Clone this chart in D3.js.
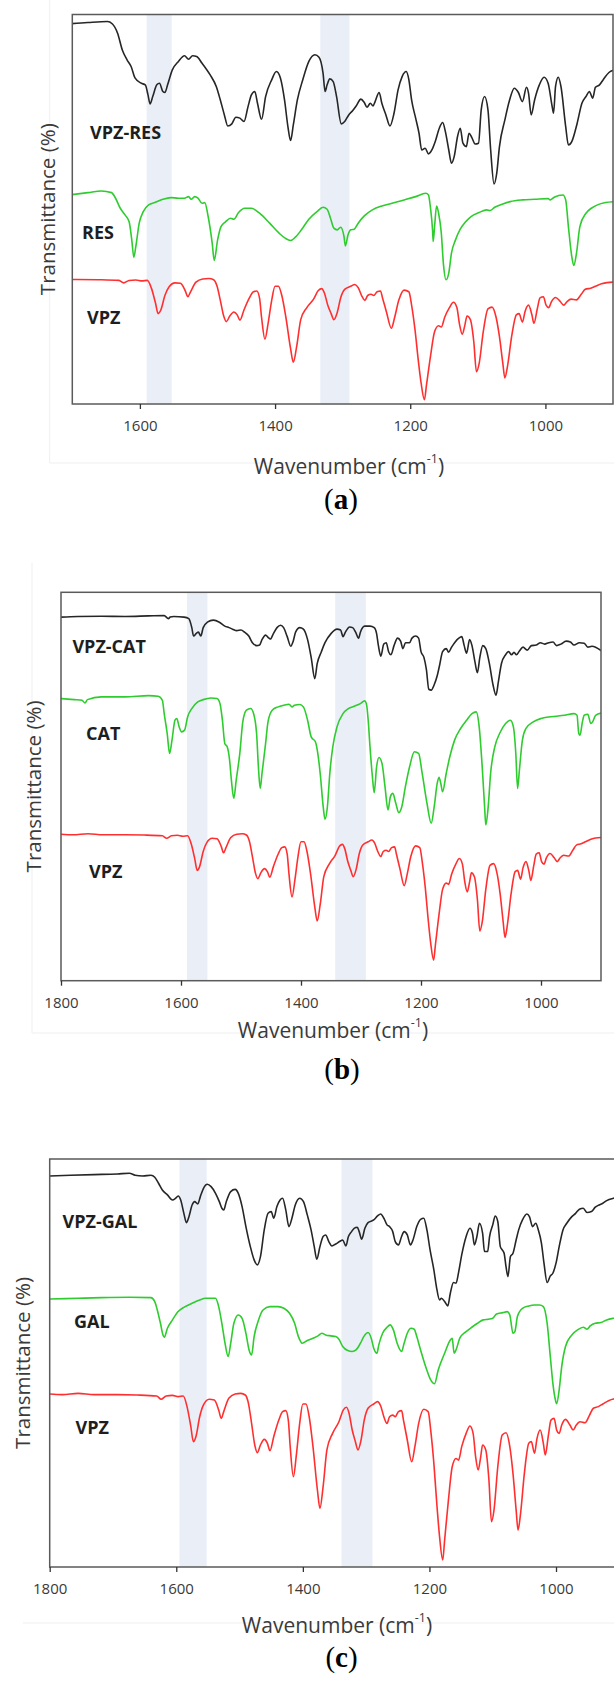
<!DOCTYPE html>
<html>
<head>
<meta charset="utf-8">
<script src="https://cdn.jsdelivr.net/npm/d3@7"></script>
<style>
  body { margin: 0; background: #fff; }
  svg { display: block; }
</style>
</head>
<body>
<svg id="fig" width="614" height="1682"></svg>
<script>
// FTIR spectra, [wavenumber (cm-1), relative transmittance]
// relative transmittance: 100 = highest point of the trace, 0 = its strongest band
const VPZ = [[1800,100],[1780,99.6],[1755,100.4],[1730,99.6],[1693,99.6],[1662,99.4],[1631,98.8],[1624,96.8],[1616,98.8],[1606,99.2],[1597,98.4],[1589,98.8],[1583,92.4],[1577,80.3],[1573,71.3],[1569,74.3],[1563,86.3],[1557,93.4],[1548,96.8],[1540,96.4],[1533,90.4],[1529,85.3],[1525,89.4],[1517,97.4],[1507,100],[1498,100.4],[1491,99.4],[1486,94.4],[1481,82.3],[1476,69.3],[1472,64.7],[1467,69.3],[1461,72.7],[1456,70.3],[1452,65.9],[1446,74.3],[1438,84.3],[1432,89.4],[1427,90],[1423,84.3],[1420,68.3],[1415,50.2],[1410,64.3],[1405,82.3],[1400,94],[1395,94],[1390,86.3],[1384,68.3],[1377,42.2],[1373,31.1],[1368,44.2],[1362,66.3],[1353,76.3],[1343,83.3],[1336,90.4],[1331,92],[1327,88.4],[1322,78.3],[1317,71.3],[1313,66.3],[1308,72.3],[1303,84.3],[1297,91.4],[1288,94],[1282,95.4],[1277,92.8],[1272,86.3],[1267,82.3],[1263,86.3],[1258,87.3],[1254,86.3],[1249,89.4],[1244,90],[1241,84.3],[1235,72.3],[1228,59.2],[1223,68.3],[1217,82.3],[1209,90.8],[1202,89.4],[1198,78.3],[1193,58.2],[1188,32.1],[1184,14.1],[1179,0],[1176,12],[1170,36.1],[1164,56.2],[1158,61.2],[1154,60.2],[1149,68.3],[1142,76.3],[1136,80.7],[1131,76.3],[1127,62.2],[1123,54.2],[1119,62.2],[1116,69.3],[1111,66.3],[1106,48.2],[1102,23.1],[1098,30.1],[1092,56.2],[1085,75.3],[1079,76.7],[1073,68.3],[1068,52.2],[1063,30.1],[1060,18.1],[1056,28.1],[1050,52.2],[1043,70.3],[1039,71.3],[1034,64.3],[1030,73.3],[1025,78.3],[1020,70.3],[1017,63.3],[1012,75.3],[1008,84.3],[1003,85.3],[999,78.3],[995,76.3],[991,81.3],[985,84.7],[978,81.3],[973,78.3],[968,81.3],[962,83.3],[954,82.7],[947,87.3],[941,91.4],[933,92.4],[926,94],[917,96],[909,97],[895,97.5]];

const VPZ_RES = [[1704,98.6],[1677,99.4],[1648,100],[1641,98.6],[1633,92.8],[1626,82.5],[1619,76.4],[1613,72.3],[1607,65.1],[1598,62],[1592,61],[1588,54.8],[1585,49.3],[1581,53.8],[1575,61],[1571,62],[1566,56.9],[1563,56.3],[1559,61],[1552,70.2],[1543,75.4],[1534,78.9],[1528,76.8],[1522,78.9],[1516,78.4],[1508,74.3],[1496,67.1],[1487,60],[1481,51.7],[1475,42.5],[1470,35.7],[1464,37],[1458,41.1],[1452,40.5],[1446,38.4],[1440,47.6],[1435,54.8],[1430,56.9],[1426,49.7],[1420,39.8],[1414,53.8],[1405,64.1],[1398,69.2],[1392,65.1],[1386,51.7],[1381,35.3],[1377,26.7],[1373,36.3],[1367,51.7],[1359,64.1],[1350,75.4],[1341,79.5],[1335,78],[1329,68.2],[1326,56.9],[1323,61],[1319,64.7],[1314,63],[1309,53.8],[1302,37],[1297,38.4],[1291,42.5],[1285,45.2],[1280,48],[1273,52.2],[1268,50.1],[1264,47.2],[1259,49.7],[1255,48],[1252,50.7],[1246,56.3],[1242,49.7],[1236,42.5],[1230,35.7],[1224,43.5],[1218,57.9],[1212,66.1],[1206,69.2],[1202,64.1],[1198,51.7],[1192,40.5],[1187,31.2],[1183,20.9],[1178,22],[1173,18.5],[1168,20.9],[1163,26.1],[1157,34.3],[1152,37.8],[1148,32.2],[1143,20.9],[1139,12.7],[1135,16.8],[1130,29.2],[1126,34.3],[1122,25.1],[1117,23],[1113,31.2],[1109,28.7],[1104,24.6],[1099,25.1],[1095,45.6],[1090,53.8],[1085,45.6],[1081,20.9],[1076,0],[1072,6.6],[1068,23],[1060,39.4],[1053,51.7],[1046,58.9],[1040,56.3],[1034,50.7],[1028,59.5],[1025,55.9],[1021,42.5],[1016,51.7],[1009,61],[1002,65.7],[996,62],[990,47.6],[988,43.5],[985,60],[981,65.7],[977,60],[970,35.3],[966,24],[961,26.1],[953,37.4],[946,49.7],[940,53.8],[935,56.9],[930,52.8],[926,59.5],[920,61],[914,64.5],[906,68.6],[897,70.2]];

const RES = [[1704,95.5],[1677,98.1],[1657,100],[1642,98.1],[1636,91.8],[1629,80.5],[1622,73],[1616,65.5],[1612,44.9],[1609,25.5],[1606,37.5],[1601,63.7],[1595,76.8],[1587,84.3],[1578,86.9],[1566,90.6],[1554,92.5],[1543,91.8],[1534,91.8],[1528,93.6],[1524,90.6],[1519,93.6],[1514,91.8],[1508,86.1],[1504,86.9],[1499,71.2],[1493,41.2],[1490,21.7],[1485,44.9],[1480,59.9],[1473,65.5],[1466,69.3],[1461,68.2],[1454,75.7],[1445,80.5],[1435,80.5],[1423,74.9],[1408,63.7],[1394,52.4],[1385,46.8],[1377,44.2],[1370,47.9],[1361,56.2],[1350,68.2],[1338,76.8],[1329,81.6],[1323,79.4],[1318,69.3],[1313,58.1],[1308,56.2],[1303,59.2],[1298,48.7],[1296,38.2],[1292,50.6],[1288,56.2],[1283,56.9],[1277,63.7],[1268,71.9],[1256,78.7],[1242,83.1],[1227,86.1],[1209,89.9],[1192,93.6],[1177,97.4],[1173,95.5],[1170,80.5],[1167,56.2],[1166,43.1],[1164,59.9],[1161,83.1],[1158,74.9],[1154,52.4],[1151,18.7],[1147,0],[1143,7.5],[1139,30],[1133,44.9],[1126,56.9],[1119,64.4],[1110,71.2],[1098,75.7],[1087,78.7],[1082,77.9],[1075,81.6],[1063,85.4],[1052,88],[1034,89.9],[1016,90.6],[996,91.4],[993,89.9],[987,92.9],[974,95.5],[970,89.9],[966,59.9],[961,26.2],[958,16.1],[954,30],[949,59.9],[940,74.9],[932,80.5],[923,84.3],[911,86.9],[897,88]];

const VPZ_CAT = [[1800,98.1],[1772,98.9],[1733,99.2],[1693,98.9],[1654,99.6],[1628,100],[1621,96.2],[1618,98.1],[1612,98.9],[1595,98.1],[1587,96.2],[1582,84.9],[1579,74.3],[1574,78.1],[1571,79.2],[1567,74.3],[1563,84.9],[1556,91.7],[1546,94.3],[1536,91.7],[1527,86.8],[1520,84.9],[1514,83],[1507,81.1],[1500,81.9],[1494,79.2],[1487,74.3],[1481,66],[1474,62.3],[1469,63],[1465,69.8],[1459,75.5],[1455,72.8],[1451,70.6],[1446,77.4],[1440,84.9],[1434,87.9],[1429,84.9],[1423,73.6],[1417,61.5],[1413,67.9],[1409,79.2],[1402,84.9],[1396,83],[1389,69.8],[1383,47.2],[1377,20.8],[1373,39.6],[1366,54.7],[1360,66],[1350,77.4],[1340,83],[1334,81.9],[1330,73.6],[1326,79.2],[1319,85.7],[1314,84.9],[1309,79.2],[1304,71.7],[1301,79.2],[1294,86.8],[1285,86.8],[1278,84.9],[1274,77.4],[1271,62.3],[1267,49.1],[1262,64.2],[1258,66],[1254,54.7],[1250,50.9],[1245,62.3],[1239,71.7],[1234,67.9],[1230,58.5],[1226,66],[1219,66],[1215,71.7],[1209,74.3],[1204,71.7],[1200,54.7],[1195,47.2],[1191,32.1],[1187,7.5],[1183,6.4],[1178,13.2],[1173,24.5],[1169,37.7],[1164,54.7],[1158,58.5],[1154,54],[1149,60.4],[1144,66],[1137,71.7],[1132,73.6],[1128,62.3],[1124,52.8],[1119,69.8],[1115,62.3],[1110,41.5],[1106,28.3],[1102,47.2],[1097,62.3],[1092,58.5],[1086,39.6],[1080,13.2],[1075,0],[1071,17],[1066,39.6],[1059,50.9],[1054,54.7],[1049,50.9],[1045,54],[1041,50.9],[1036,55.5],[1030,60.4],[1023,56.6],[1016,62.3],[1008,63],[1001,66],[994,64.2],[987,66],[980,66.8],[974,62.3],[967,64.2],[958,67.9],[951,66.8],[945,63],[936,66],[928,65.3],[922,60.4],[915,61.5],[909,60.4],[899,55.5]];

const CAT = [[1800,97.7],[1778,96.9],[1765,96.4],[1760,94.3],[1756,96.9],[1733,99],[1693,99],[1654,100],[1638,99.5],[1631,96.4],[1628,86.1],[1623,70.7],[1619,55.3],[1615,65.6],[1610,81],[1607,82.3],[1603,75.8],[1599,72],[1594,73.3],[1589,83.5],[1582,90],[1572,95.1],[1563,96.9],[1550,98.2],[1540,97.7],[1535,93.8],[1531,81],[1527,63],[1523,60.4],[1519,50.1],[1516,34.7],[1512,20.6],[1508,34.7],[1502,55.3],[1497,79.7],[1491,88.7],[1484,90],[1479,86.1],[1474,70.7],[1471,45],[1468,28.3],[1465,39.8],[1459,63],[1455,79.7],[1448,88.7],[1438,91.3],[1429,92.5],[1420,93.3],[1415,91.3],[1411,92.5],[1402,93.1],[1396,91.3],[1389,81],[1383,68.1],[1376,64.3],[1372,55.3],[1368,39.8],[1363,14.1],[1360,4.4],[1356,14.1],[1352,39.8],[1347,60.4],[1340,75.8],[1330,86.1],[1321,90],[1311,91.8],[1301,93.8],[1294,95.9],[1291,93.8],[1288,81],[1285,60.4],[1281,37.3],[1278,24.9],[1274,45],[1270,52.2],[1265,47.6],[1260,29.6],[1255,11.6],[1251,21.9],[1247,24.4],[1242,16.7],[1237,9.5],[1232,14.1],[1226,29.6],[1219,45],[1211,56.6],[1204,55.3],[1198,39.8],[1190,16.7],[1183,1.3],[1178,14.1],[1173,32.1],[1170,36.8],[1167,32.1],[1164,25.7],[1158,39.8],[1152,52.7],[1144,65.6],[1134,74.6],[1124,81],[1115,86.1],[1108,87.4],[1103,75.8],[1098,45],[1094,14.1],[1092,0],[1088,14.1],[1084,39.8],[1077,60.4],[1069,70.7],[1059,78.4],[1051,81],[1046,75.8],[1042,55.3],[1039,28.3],[1036,42.4],[1031,65.6],[1025,74.6],[1013,79.7],[1000,82.3],[987,83.5],[974,84.1],[961,84.8],[945,86.1],[940,84.8],[937,70.7],[935,69.4],[931,79.7],[928,84.8],[922,85.6],[917,78.4],[914,79.7],[909,84.8],[899,86.6]];

const VPZ_GAL = [[1800,98],[1767,98.5],[1730,99],[1693,99.5],[1674,100],[1665,98.5],[1653,98],[1640,98.5],[1634,97],[1628,92.5],[1622,87.4],[1614,83.7],[1606,79.9],[1601,81.2],[1597,82.9],[1593,79.9],[1588,69.8],[1584,62.8],[1580,67.3],[1575,76.1],[1571,78.6],[1566,76.9],[1562,82.4],[1557,88.7],[1551,91.7],[1545,89.9],[1538,84.9],[1532,78.6],[1528,73.6],[1525,72.4],[1521,78.6],[1514,86.2],[1507,87.9],[1502,84.9],[1496,74.9],[1490,59.8],[1483,44.7],[1477,34.7],[1472,30.9],[1467,37.2],[1461,57.3],[1455,69.8],[1450,71.1],[1446,66.1],[1441,74.9],[1436,79.9],[1432,81.2],[1427,72.4],[1422,59.8],[1418,64.8],[1412,76.1],[1405,81.2],[1399,78.6],[1393,68.6],[1387,57.3],[1382,44.7],[1378,35.2],[1373,44.7],[1368,52.3],[1364,53.5],[1359,48.5],[1354,45.2],[1348,46.7],[1342,48.5],[1337,49.7],[1332,45.2],[1328,52.3],[1323,56],[1319,58.5],[1314,59.3],[1311,56],[1307,50.3],[1302,58.5],[1297,62.8],[1288,64.8],[1282,67.8],[1277,69.3],[1272,66.1],[1267,61.1],[1263,59.8],[1258,56],[1254,48.5],[1249,46],[1244,52.3],[1240,56],[1235,53.5],[1230,46],[1226,49.7],[1220,59.8],[1214,65.3],[1209,66.1],[1204,57.3],[1199,42.2],[1193,27.1],[1189,14.6],[1184,4.5],[1181,5.8],[1176,3.3],[1171,0],[1167,9.5],[1162,17.6],[1158,17.1],[1154,25.1],[1149,38.4],[1142,52.3],[1136,58.5],[1132,54.8],[1129,46],[1125,52.3],[1121,62.3],[1116,54.8],[1113,41],[1108,41],[1105,52.3],[1100,61.1],[1096,67.8],[1092,63.6],[1088,44.7],[1085,42.2],[1082,39.7],[1079,29.6],[1076,22.1],[1072,37.2],[1068,39.7],[1063,49.7],[1059,57.3],[1053,64.8],[1046,69.3],[1042,67.3],[1037,59.8],[1032,62.3],[1028,57.3],[1023,47.2],[1019,32.2],[1014,17.6],[1009,22.6],[1005,24.6],[1000,32.2],[995,44.7],[989,57.3],[983,62.3],[975,67.3],[969,69.8],[963,72.9],[957,73.6],[951,70.4],[944,71.1],[938,74.4],[932,76.1],[926,77.4],[920,79.4],[909,81.2],[900,82]];

const GAL = [[1800,98.4],[1755,99.1],[1718,99.7],[1674,100],[1640,99.7],[1634,95.9],[1630,88.1],[1625,75.6],[1621,64.7],[1619,62.5],[1614,70.9],[1606,78.8],[1597,86.6],[1588,90.6],[1575,94.4],[1563,97.5],[1554,99.1],[1538,99.1],[1533,91.3],[1528,75.6],[1523,56.9],[1518,44.4],[1514,56.9],[1509,75.6],[1502,83.4],[1496,80.3],[1490,66.3],[1485,50.6],[1481,45.9],[1477,63.1],[1470,78.8],[1463,88.1],[1452,91.3],[1439,91.3],[1430,89.7],[1421,85],[1413,75.6],[1407,63.1],[1401,56.9],[1393,59.4],[1384,61.6],[1376,63.8],[1370,66.3],[1364,64.7],[1356,63.8],[1348,63.1],[1343,60.6],[1337,53.8],[1329,50],[1322,49.1],[1316,50.6],[1309,56.9],[1303,63.8],[1297,66.9],[1292,61.6],[1288,52.2],[1283,47.5],[1280,55.3],[1274,66.3],[1267,71.9],[1262,74.1],[1257,69.4],[1251,56.9],[1244,49.1],[1240,56.9],[1235,66.3],[1229,70.9],[1224,70],[1220,63.1],[1214,50.6],[1206,35],[1198,22.5],[1192,18.8],[1186,31.9],[1176,47.5],[1167,60],[1164,61.6],[1161,47.5],[1158,50.6],[1152,61.6],[1142,67.8],[1133,71.9],[1124,75.6],[1115,78.8],[1107,79.4],[1100,80.3],[1094,84.4],[1084,85.6],[1077,86.6],[1073,83.4],[1068,66.3],[1065,67.8],[1061,81.9],[1053,89.7],[1043,91.9],[1034,92.8],[1026,92.8],[1020,91.3],[1014,75.6],[1009,44.4],[1005,19.4],[1001,3.8],[999,0],[995,13.1],[991,35],[985,53.8],[975,64.7],[966,69.4],[957,71.9],[951,70],[946,73.1],[938,75.6],[929,76.3],[920,78.8],[909,80.3],[900,81]];

// x-axis tick values
const ticksA = [1600, 1400, 1200, 1000];
const ticksBC = [1800, 1600, 1400, 1200, 1000];

// highlighted regions (cm-1)
const bandsA = [[1590, 1553], [1333, 1290]];
const bandsB = [[1590, 1556], [1343, 1292]];
const bandsC = [[1595, 1552], [1339, 1290]];

const BLACK = "#262626", GREEN = "#2ecc2e", RED = "#ff2f2f";
const AXIS_FONT = "'Open Sans', 'Noto Sans', sans-serif";

// panel layout; each trace is placed between `deep` (its strongest band) and `top`
// on a 0-100 vertical scale spanning the frame
const panels = [
  {
    tag: "a", frame: { x0: 72.3, x1: 613, y0: 14.5, y1: 404 }, domain: [1700, 900],
    ticks: ticksA, bands: bandsA,
    traces: [
      { data: VPZ_RES, name: "VPZ-RES", color: BLACK, top: 98.2, deep: 56.5, lx: 90, ly: 132 },
      { data: RES, name: "RES", color: GREEN, top: 54.7, deep: 31.9, lx: 82, ly: 232 },
      { data: VPZ, name: "VPZ", color: RED, top: 32.1, deep: 1.1, lx: 87, ly: 317 }
    ],
    ylab: { x: 47 }, title: { x: 349, y: 466 }, tagPos: { x: 341, y: 499 },
    outline: [[49.7, 0, 49.7, 463], [49.7, 463, 614, 463]]
  },
  {
    tag: "b", frame: { x0: 61, x1: 601, y0: 592.3, y1: 980.7 }, domain: [1800, 900],
    ticks: ticksBC, bands: bandsB,
    traces: [
      { data: VPZ_CAT, name: "VPZ-CAT", color: BLACK, top: 94.0, deep: 73.5, lx: 72.4, ly: 646 },
      { data: CAT, name: "CAT", color: GREEN, top: 73.4, deep: 40.1, lx: 86, ly: 733 },
      { data: VPZ, name: "VPZ", color: RED, top: 37.7, deep: 5.3, lx: 89, ly: 871 }
    ],
    ylab: { x: 33 }, title: { x: 333, y: 1030 }, tagPos: { x: 342, y: 1069 },
    outline: [[32, 563, 32, 1033], [32, 1033, 614, 1033]]
  },
  {
    tag: "c", frame: { x0: 49.7, x1: 619.3, y0: 1159, y1: 1567 }, domain: [1800, 900],
    ticks: ticksBC, bands: bandsC,
    traces: [
      { data: VPZ_GAL, name: "VPZ-GAL", color: BLACK, top: 96.5, deep: 64.0, lx: 62.6, ly: 1221 },
      { data: GAL, name: "GAL", color: GREEN, top: 66.1, deep: 40.0, lx: 74, ly: 1321 },
      { data: VPZ, name: "VPZ", color: RED, top: 42.4, deep: 1.7, lx: 75.6, ly: 1427 }
    ],
    ylab: { x: 21.5 }, title: { x: 337, y: 1625 }, tagPos: { x: 341.5, y: 1657 },
    outline: [[23, 1623, 614, 1623]]
  }
];

const svg = d3.select("#fig");
svg.append("rect").attr("width", 614).attr("height", 1682).attr("fill", "#fff");

panels.forEach(p => {
  const f = p.frame;
  const g = svg.append("g").attr("class", "panel-" + p.tag);

  // faint figure outline
  p.outline.forEach(l => {
    g.append("line").attr("x1", l[0]).attr("y1", l[1]).attr("x2", l[2]).attr("y2", l[3])
      .attr("stroke", "#efefef").attr("stroke-width", 1);
  });

  const x = d3.scaleLinear().domain(p.domain).range([f.x0, f.x1]);
  const y = d3.scaleLinear().domain([0, 100]).range([f.y1, f.y0]);

  const clipId = "clip-" + p.tag;
  g.append("clipPath").attr("id", clipId)
    .append("rect").attr("x", f.x0).attr("y", f.y0)
    .attr("width", f.x1 - f.x0).attr("height", f.y1 - f.y0);

  const plot = g.append("g").attr("clip-path", `url(#${clipId})`);

  // highlighted wavenumber regions
  plot.selectAll("rect.band").data(p.bands).join("rect")
    .attr("class", "band")
    .attr("x", d => x(d[0]))
    .attr("width", d => x(d[1]) - x(d[0]))
    .attr("y", f.y0).attr("height", f.y1 - f.y0)
    .attr("fill", "#e9eef7");

  // spectra
  p.traces.forEach(t => {
    const line = d3.line()
      .x(d => x(d[0]))
      .y(d => y(t.deep + d[1] / 100 * (t.top - t.deep)))
      .curve(d3.curveMonotoneX);
    plot.append("path").datum(t.data)
      .attr("d", line)
      .attr("fill", "none")
      .attr("stroke", t.color)
      .attr("stroke-width", 1.6)
      .attr("stroke-linejoin", "round");

    g.append("text").text(t.name)
      .attr("x", t.lx).attr("y", t.ly)
      .attr("dominant-baseline", "central")
      .attr("font-family", AXIS_FONT)
      .attr("font-weight", 700)
      .attr("font-size", 18)
      .attr("fill", "#1e1e1e");
  });

  // frame
  g.append("rect").attr("x", f.x0).attr("y", f.y0)
    .attr("width", f.x1 - f.x0).attr("height", f.y1 - f.y0)
    .attr("fill", "none").attr("stroke", "#5a5a5a").attr("stroke-width", 1.5);

  // bottom axis
  const axis = d3.axisBottom(x).tickValues(p.ticks).tickSize(5).tickFormat(d3.format("d"));
  const ag = g.append("g").attr("transform", `translate(0,${f.y1})`).call(axis);
  ag.select(".domain").remove();
  ag.selectAll(".tick line").attr("stroke", "#333").attr("stroke-width", 1.3);
  ag.selectAll(".tick text")
    .attr("y", 22).attr("dy", "0.35em")
    .attr("font-family", AXIS_FONT).attr("font-size", 15).attr("fill", "#3a3a3a");

  // axis titles
  const title = g.append("text")
    .attr("x", p.title.x).attr("y", p.title.y)
    .attr("text-anchor", "middle").attr("dominant-baseline", "central")
    .attr("font-family", AXIS_FONT).attr("font-size", 21).attr("fill", "#3a3a3a");
  title.append("tspan").text("Wavenumber (cm");
  title.append("tspan").text("-1").attr("font-size", 12.5).attr("dy", -8);
  title.append("tspan").text(")").attr("dy", 8);

  g.append("text")
    .attr("transform", `translate(${p.ylab.x},${(f.y0 + f.y1) / 2}) rotate(-90)`)
    .attr("text-anchor", "middle").attr("dominant-baseline", "central")
    .attr("font-family", AXIS_FONT).attr("font-size", 20.5).attr("fill", "#3a3a3a")
    .text("Transmittance (%)");

  // panel tag
  const tag = g.append("text")
    .attr("x", p.tagPos.x).attr("y", p.tagPos.y)
    .attr("text-anchor", "middle").attr("dominant-baseline", "central")
    .attr("font-family", "'Liberation Serif', 'DejaVu Serif', serif")
    .attr("font-size", 29).attr("fill", "#000");
  tag.append("tspan").text("(");
  tag.append("tspan").text(p.tag).attr("font-weight", 700);
  tag.append("tspan").text(")");
});
</script>
</body>
</html>
